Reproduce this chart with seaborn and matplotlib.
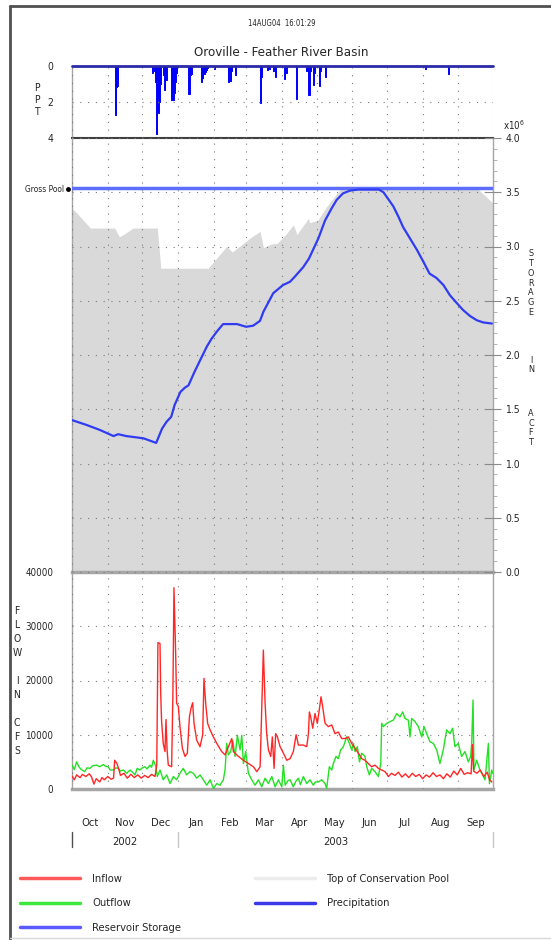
import numpy as np
import pandas as pd
import matplotlib
matplotlib.use('Agg')
import matplotlib.pyplot as plt
import matplotlib.transforms as mtransforms
from matplotlib.lines import Line2D
import seaborn as sns

sns.set_style('white')
plt.rcParams['font.family'] = ['Liberation Sans Narrow', 'DejaVu Sans']
plt.rcParams['font.stretch'] = 'condensed'

# ---- data (days after 1 Oct 2002) ----
ppt_days = [37, 38, 39, 69, 71, 72, 73, 74, 75, 76, 79, 80, 81, 86, 87, 88, 89, 90,
            101, 102, 103, 112, 113, 114, 115, 116, 117, 123, 135, 136, 137, 138, 141,
            163, 164, 169, 171, 174, 176, 184, 185, 194, 203, 205, 206, 209, 210, 214,
            215, 219, 306, 326]
ppt_in = [2.75, 1.2, 1.15, 0.4, 0.3, 0.9, 3.8, 2.6, 2.0, 1.0, 0.5, 1.35, 0.8, 1.9, 1.9, 1.5, 0.9, 0.4,
          1.55, 0.5, 0.45, 0.9, 0.7, 0.45, 0.35, 0.25, 0.15, 0.2, 0.9, 0.35, 0.85, 0.3, 0.5,
          2.05, 0.6, 0.25, 0.2, 0.3, 0.6, 0.75, 0.4, 1.85, 0.3, 1.6, 0.3, 1.05, 0.4, 1.1,
          0.3, 0.6, 0.2, 0.45]

toc_days = [0, 5, 10, 16, 37, 41, 46, 53, 74, 77, 118, 134, 139, 145, 151, 154, 163, 166,
            172, 178, 186, 192, 195, 205, 206, 213, 221, 232, 235, 351, 365]
toc_maf = [3.35, 3.30, 3.24, 3.17, 3.17, 3.09, 3.12, 3.17, 3.17, 2.80, 2.80, 3.00, 2.95, 3.00,
           3.05, 3.075, 3.14, 2.99, 3.02, 3.03, 3.12, 3.20, 3.11, 3.26, 3.22, 3.24, 3.37,
           3.52, 3.538, 3.538, 3.40]

storage_days = [0, 12.7, 24, 36, 40, 47, 62, 73, 78, 82, 86, 89, 94, 98, 101, 106, 111, 117,
                121, 125.5, 131, 143, 151, 157, 163, 166, 170, 174.5, 183, 189, 193, 200.5,
                205.5, 209, 213.6, 219.4, 225, 229.5, 235, 241, 248, 266, 270, 274, 278.6,
                283, 287, 293, 299, 304.6, 310, 316, 322, 327.7, 333.5, 339, 345, 351, 356.6,
                364]
storage_maf = [1.40, 1.355, 1.31, 1.253, 1.27, 1.253, 1.232, 1.19, 1.32, 1.385, 1.43, 1.54, 1.66,
               1.70, 1.72, 1.84, 1.95, 2.08, 2.15, 2.215, 2.285, 2.285, 2.26, 2.27, 2.315, 2.40,
               2.48, 2.57, 2.645, 2.675, 2.72, 2.81, 2.89, 2.97, 3.075, 3.24, 3.35, 3.43, 3.49,
               3.515, 3.525, 3.525, 3.50, 3.44, 3.37, 3.275, 3.18, 3.075, 2.97, 2.86, 2.75, 2.71,
               2.645, 2.55, 2.48, 2.415, 2.36, 2.32, 2.30, 2.29]
gross_pool_maf = 3.538

inflow_days = [0, 2, 4, 7, 9, 12, 15, 17, 19, 21, 24, 26, 28, 31, 34, 36, 37, 39, 41, 42, 45,
               48, 51, 54, 57, 60, 63, 66, 69, 72, 73.5, 74.5, 76.3, 76.9, 77.7, 79.1, 80.6,
               81.5, 82.5, 83.5, 86.4, 87.5, 88.4, 89.9, 90.7, 92.2, 93.6, 95.7, 98.0, 100.0,
               101.8, 103.2, 104.6, 105.8, 108.1, 111.0, 113.3, 114.4, 115.9, 117.6, 119.7,
               122.6, 125.5, 129.8, 132.7, 135.6, 138.5, 139.9, 144.3, 148.6, 152.9, 157.3,
               160.2, 163.1, 164.5, 165.9, 167.4, 168.8, 170.3, 172.3, 173.7, 175.2, 176.6,
               178.1, 180.4, 183.3, 186.2, 189.1, 191.9, 194.3, 196.3, 200.6, 203.5, 205.0,
               205.8, 206.9, 208.7, 210.7, 212.7, 214.4, 215.9, 217.3, 219.4, 222.3, 225.2,
               228.0, 230.9, 233.8, 236.7, 239.6, 242.5, 245.4, 248.3, 251.2, 254.0, 256.9,
               259.8, 262.7, 265.6, 268.5, 271.4, 274.3, 277, 280, 283, 286, 289, 292, 295,
               298, 301, 304, 307, 310, 313, 316, 319, 322, 325, 328, 331, 334, 337, 340,
               343, 346, 347.2, 348.2, 351, 354, 357, 360, 362, 364]
inflow_cfs = [2400, 1700, 2600, 2100, 2700, 2300, 2800, 2200, 900, 1900, 1300, 2100, 1700, 2300,
              1800, 2000, 5300, 4700, 3300, 2500, 2900, 2000, 2700, 2100, 2600, 2000, 2500, 2100,
              2700, 2300, 4500, 27000, 26800, 17600, 12400, 8400, 6900, 12800, 7000, 4400, 4100,
              18000, 37100, 24700, 15800, 15200, 11500, 7500, 6000, 6600, 13300, 14900, 15900,
              12100, 9000, 7800, 10000, 20400, 15800, 12100, 10900, 9600, 8400, 6900, 6300,
              7800, 9300, 6900, 6000, 5300, 4700, 4100, 3200, 4100, 14600, 25600, 15800, 10200,
              7200, 6000, 9600, 3800, 10200, 9600, 7800, 6600, 5300, 5600, 6900, 10000, 8100,
              8100, 7800, 10200, 14200, 13300, 11200, 13900, 12100, 14600, 17000, 15200, 12100,
              11500, 11800, 10200, 10500, 9300, 9300, 9600, 8400, 7500, 6600, 5600, 5300, 4700,
              4100, 4400, 3800, 3500, 3200, 2300, 2900, 2500, 3100, 2200, 2800, 2100, 2900,
              2300, 2700, 1900, 2600, 2200, 3000, 2300, 2600, 1900, 2800, 2200, 3300, 2600,
              3800, 2700, 3000, 2800, 8200, 3300, 2900, 3500, 2300, 3100, 1700, 1300]

outflow_days = [0, 2, 4, 6, 8, 11, 13, 15.6, 18, 21.4, 24, 27.2, 29, 31.5, 33, 35.8, 38, 40.2,
                42, 44.5, 47.4, 50.3, 52, 54.6, 56.5, 58.9, 61, 63.3, 65, 67.6, 69, 70.5, 72.8,
                74.0, 76.3, 79.1, 82.1, 85.0, 87.9, 90.7, 93.6, 96.5, 99.4, 102.3, 105.2,
                108.1, 111.0, 113.9, 116.8, 119.7, 122.6, 125.5, 128.3, 131.2, 132.7, 134.1,
                135.6, 137.6, 139.4, 141.4, 143.4, 145.7, 147.2, 148.6, 150.6, 152.9, 155.8,
                158.7, 161.6, 164.5, 167.4, 170.3, 173.2, 176.1, 179.0, 181.9, 183.3, 184.8,
                187, 189.1, 191.9, 194, 196.3, 198, 200.6, 203.5, 206.3, 209.2, 211, 213.6,
                216.5, 219.4, 220.8, 223.1, 225.2, 226.6, 228.9, 230.9, 232.9, 235.3, 238.1,
                240.5, 242.5, 244.0, 245.4, 247.4, 249.2, 251.2, 254.0, 255.5, 257.8, 259.8,
                262.7, 265.6, 267.7, 268.5, 270.0, 272.8, 275.7, 278.6, 281.5, 284.4, 286.7,
                288.7, 291.6, 293.1, 294.5, 297.4, 300.3, 303.2, 305.2, 307.5, 310.4, 313.3,
                316.2, 319.0, 321.9, 324.8, 327.7, 330.0, 332.0, 334.9, 337.8, 340.7, 343.6,
                345.6, 346.5, 347.7, 348.5, 350.8, 353.7, 356.0, 358.1, 361.0, 361.9, 363.9,
                364.7]
outflow_cfs = [4400, 3600, 5000, 4100, 3600, 3200, 3900, 3800, 4300, 4400, 4100, 4500, 4200,
               4100, 3500, 3500, 3900, 3800, 3300, 3500, 2900, 3500, 3200, 2600, 3800, 3500,
               3900, 4100, 3700, 4400, 4000, 5300, 4100, 2300, 3500, 1700, 2600, 1000, 2300,
               1700, 2900, 3800, 2600, 3200, 2900, 2000, 2600, 1700, 700, 1700, 100, 1000, 700,
               1700, 3500, 8400, 6300, 6900, 9000, 6000, 9900, 7200, 9900, 4700, 6900, 2900,
               1700, 700, 1700, 400, 2000, 1000, 2300, 400, 1700, 400, 4400, 700, 1500, 1700,
               400, 1400, 2000, 800, 2300, 1000, 1700, 700, 1300, 1300, 1700, 1000, 100, 4100,
               3500, 4700, 6000, 5600, 7200, 7800, 9600, 8400, 7200, 8400, 6900, 7800, 5000,
               6600, 6000, 4100, 2600, 3800, 3200, 2300, 4700, 12100, 11500, 12100, 12400,
               12700, 13900, 13300, 14200, 13000, 12700, 9600, 13000, 12400, 11500, 9600,
               11500, 10200, 8700, 8400, 7200, 4700, 7200, 10900, 10200, 11200, 7800, 8400,
               6000, 6900, 5000, 6000, 8400, 16400, 3500, 5300, 3500, 2600, 1700, 8400, 1000,
               3500, 2900]

month_labels = ['Oct', 'Nov', 'Dec', 'Jan', 'Feb', 'Mar', 'Apr', 'May', 'Jun', 'Jul', 'Aug', 'Sep']
year_labels = ['2002', '2003']

start = pd.Timestamp('2002-10-01')


def to_dates(days):
    return start + pd.to_timedelta(np.asarray(days, dtype=float), unit='D')


daily = np.zeros(365)
daily[ppt_days] = ppt_in
ppt_df = pd.DataFrame({'date': to_dates(np.arange(365) + 0.5), 'ppt': daily})
toc_df = pd.DataFrame({'date': to_dates(toc_days), 'toc': toc_maf})
sto_df = pd.DataFrame({'date': to_dates(storage_days), 'storage': storage_maf})
in_df = pd.DataFrame({'date': to_dates(inflow_days), 'flow': inflow_cfs})
out_df = pd.DataFrame({'date': to_dates(outflow_days), 'flow': outflow_cfs})

# ---- layout in pixels ----
W, H = 551, 940


def fx(px):
    return px / W


def fy(py):
    return 1 - py / H


L, R = 72, 493
fig = plt.figure(figsize=(W / 100, H / 100), dpi=100)
ax_p = fig.add_axes([fx(L), fy(138), (R - L) / W, (138 - 65.7) / H])
ax_s = fig.add_axes([fx(L), fy(572), (R - L) / W, (572 - 138) / H])
ax_f = fig.add_axes([fx(L), fy(789), (R - L) / W, (789 - 572) / H])

red, green, blue = '#ff2626', '#22e022', '#2f3cf2'
gridc = '#7a7a7a'
dots = (0, (1, 6))

# precipitation
ax_p.fill_between(ppt_df['date'], 0, ppt_df['ppt'], step='mid', color='#0000ff', lw=0)
sns.lineplot(data=ppt_df, x='date', y='ppt', ax=ax_p, color='#0000ff', lw=0.7,
             drawstyle='steps-mid')
ax_p.axhline(0, color='#2a2aa8', lw=2, clip_on=False, zorder=5)
ax_p.set_ylim(4, 0)

# storage
ax_s.fill_between(toc_df['date'], 0, toc_df['toc'], color='#d9d9d9', lw=0, zorder=1)
ax_s.axhline(gross_pool_maf, color='#5d6dff', lw=2.5, zorder=3)
sns.lineplot(data=sto_df, x='date', y='storage', ax=ax_s, color=blue, lw=1.6, zorder=4)
ax_s.set_ylim(0, 4)

# flow
sns.lineplot(data=in_df, x='date', y='flow', ax=ax_f, color=red, lw=1.0, zorder=4)
sns.lineplot(data=out_df, x='date', y='flow', ax=ax_f, color=green, lw=1.0, zorder=3)
ax_f.set_ylim(0, 40000)

month_starts = pd.date_range('2002-10-01', '2003-10-01', freq='MS')
for ax in (ax_p, ax_s, ax_f):
    ax.set_xlim(month_starts[0], month_starts[-1])
    ax.set_xticks(month_starts)
    ax.set_xticklabels([])
    ax.set_xlabel('')
    ax.set_ylabel('')
    ax.set_facecolor('none')
    ax.set_axisbelow(False)
    ax.grid(axis='x', color=gridc, linestyle=dots, lw=0.8)
    ax.grid(axis='y', color=gridc, linestyle=dots, lw=0.8)
    for s in ax.spines.values():
        s.set_color('#a6a6a6')
        s.set_linewidth(1)
    ax.spines['top'].set_visible(False)

ax_p.tick_params(axis='x', direction='inout', length=28, color='#a6a6a6', width=1)
ax_s.tick_params(axis='x', direction='inout', length=28, color='#a6a6a6', width=1)
ax_f.tick_params(axis='x', direction='out', length=14, color='#a6a6a6', width=1)

# precipitation y axis
ax_p.spines['right'].set_visible(False)
ax_p.spines['bottom'].set_color('#404040')
ax_p.spines['bottom'].set_linewidth(1.5)
ax_p.set_yticks([0, 2, 4])
ax_p.set_yticklabels(['0', '2', '4'])
ax_p.set_yticks([1, 3], minor=True)
ax_p.tick_params(axis='y', which='major', direction='inout', length=13, color='#a6a6a6',
                 labelsize=7.5, pad=7)
ax_p.tick_params(axis='y', which='minor', direction='inout', length=5, color='#a6a6a6')

# storage y axis (right)
ax_s.yaxis.tick_right()
ax_s.set_yticks(np.arange(0, 4.01, 0.5))
ax_s.set_yticklabels(['%.1f' % v for v in np.arange(0, 4.01, 0.5)])
ax_s.set_yticks(np.arange(0, 4.01, 0.1), minor=True)
ax_s.tick_params(axis='y', which='major', direction='inout', length=12, color='#8a8a8a',
                 labelsize=7.5, pad=3)
ax_s.tick_params(axis='y', which='minor', direction='out', length=3, color='#a6a6a6')
ax_s.spines['bottom'].set_linewidth(2.5)

# flow y axis
ax_f.set_yticks(np.arange(0, 40001, 10000))
ax_f.set_yticklabels(['%d' % v for v in np.arange(0, 40001, 10000)])
ax_f.set_yticks(np.arange(5000, 40000, 10000), minor=True)
ax_f.tick_params(axis='y', which='major', direction='inout', length=13, color='#a6a6a6',
                 labelsize=7, pad=7)
ax_f.tick_params(axis='y', which='minor', direction='inout', length=5, color='#a6a6a6')
ax_f.spines['bottom'].set_linewidth(2.5)

# month and year labels
trans = mtransforms.blended_transform_factory(ax_f.transData, ax_f.transAxes)
for i, lab in enumerate(month_labels):
    mid = month_starts[i] + (month_starts[i + 1] - month_starts[i]) / 2
    ax_f.text(mid, -0.155, lab, transform=trans, ha='center', va='center', fontsize=8)
year_bounds = [month_starts[0], month_starts[3], month_starts[-1]]
for i, lab in enumerate(year_labels):
    mid = year_bounds[i] + (year_bounds[i + 1] - year_bounds[i]) / 2
    ax_f.text(mid, -0.245, lab, transform=trans, ha='center', va='center', fontsize=8)
for j, b in enumerate(year_bounds):
    ax_f.plot([b, b], [-0.2, -0.265], transform=trans, clip_on=False,
              color='#505050' if j == 0 else '#c8c8c8', lw=1)

# texts
fig.text(fx(282), fy(23), '14AUG04  16:01:29', ha='center', va='center', fontsize=5.5)
fig.text(fx(281), fy(53), 'Oroville - Feather River Basin', ha='center', va='center',
         fontsize=9.5)
fig.text(fx(503), fy(125), r'x10$^6$', ha='left', va='center', fontsize=7)
fig.text(fx(37), fy(100), 'P\nP\nT', ha='center', va='center', fontsize=7.5, linespacing=1.3)
fig.text(fx(17), fy(681), 'F\nL\nO\nW\n\nI\nN\n\nC\nF\nS', ha='center', va='center',
         fontsize=7.5, linespacing=1.5)
fig.text(fx(531), fy(283), 'S\nT\nO\nR\nA\nG\nE', ha='center', va='center', fontsize=6.5,
         linespacing=1.12)
fig.text(fx(531), fy(365), 'I\nN', ha='center', va='center', fontsize=6.5, linespacing=1.12)
fig.text(fx(531), fy(428), 'A\nC\nF\nT', ha='center', va='center', fontsize=6.5,
         linespacing=1.12)
fig.text(fx(64), fy(189), 'Gross Pool', ha='right', va='center', fontsize=6)
fig.add_artist(Line2D([fx(68)], [fy(189)], marker='o', ms=2.5, color='black'))

# frame
fig.add_artist(Line2D([fx(10), 1], [fy(6), fy(6)], color='#505050', lw=2))
fig.add_artist(Line2D([fx(10), fx(10)], [fy(6), 0], color='#505050', lw=2))
fig.add_artist(Line2D([fx(10), 1], [fy(938), fy(938)], color='#d8d8d8', lw=1))

# legend
h1 = [Line2D([], [], color='#ff5a5a', lw=2.5),
      Line2D([], [], color='#3ce83c', lw=2.5),
      Line2D([], [], color='#5a5aff', lw=2.5)]
h2 = [Line2D([], [], color='#ececec', lw=2.5),
      Line2D([], [], color='#3a3ae8', lw=2.5)]
common = dict(loc='upper left', frameon=False, fontsize=8, handlelength=5.4, handletextpad=1.1,
              labelspacing=1.3, borderpad=0, borderaxespad=0)
fig.legend(h1, ['Inflow', 'Outflow', 'Reservoir Storage'],
           bbox_to_anchor=(fx(20), fy(874)), **common)
fig.legend(h2, ['Top of Conservation Pool', 'Precipitation'],
           bbox_to_anchor=(fx(255), fy(874)), **common)

fig.savefig('out.png', dpi=100)
